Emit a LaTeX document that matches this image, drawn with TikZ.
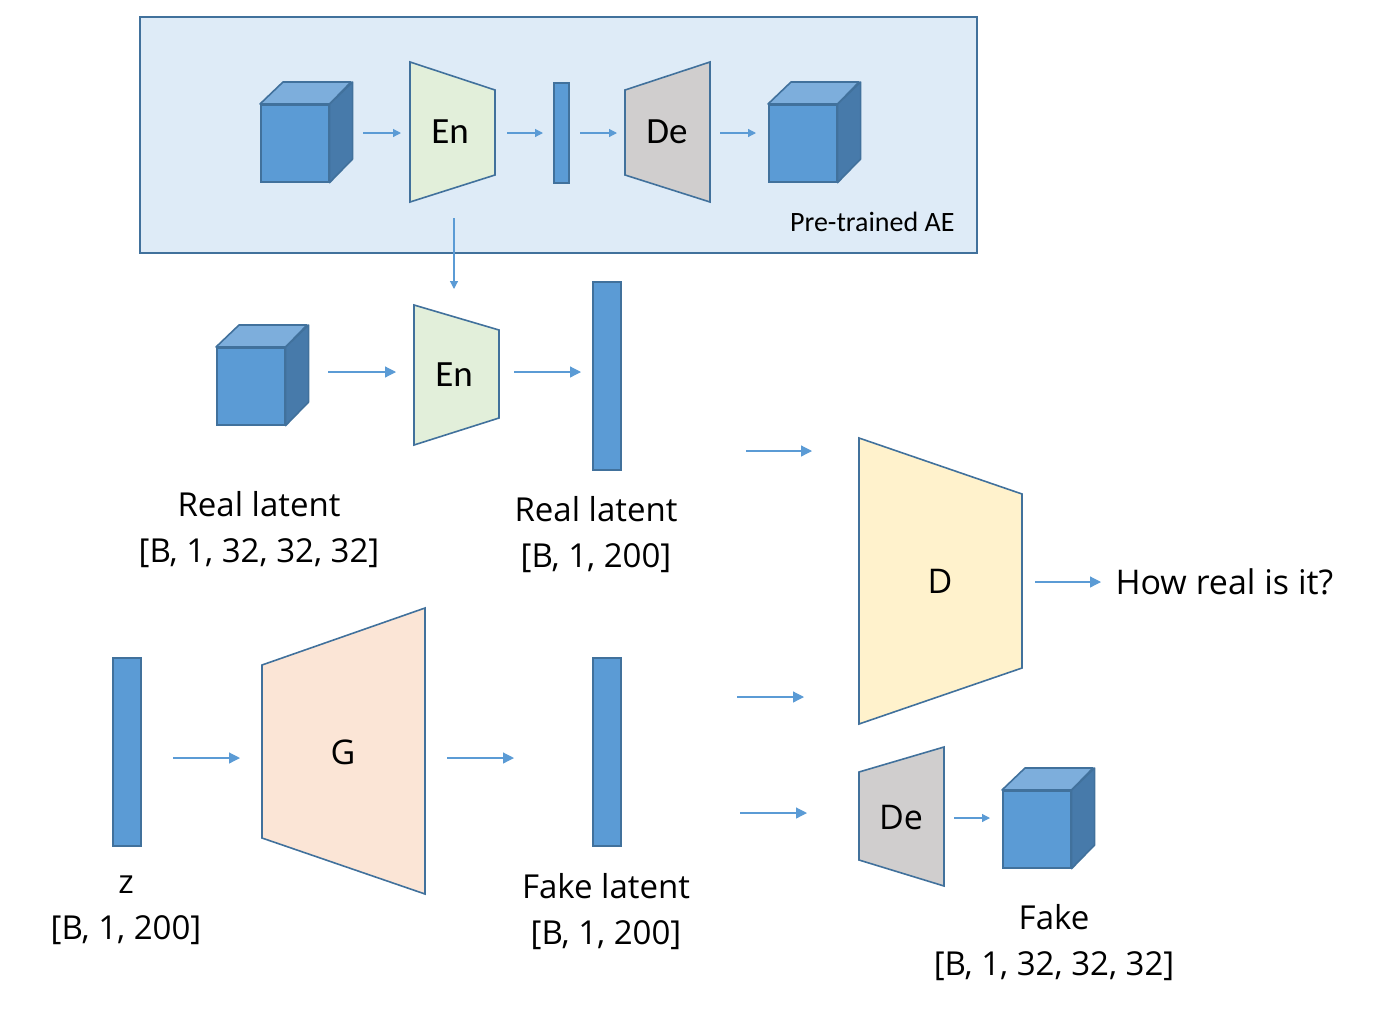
\documentclass[tikz,border=0pt]{standalone}
\usepackage{fontspec}
\setmainfont{Open Sans}
\newfontfamily\calfont{Carlito}
\usetikzlibrary{arrows.meta,positioning}
\definecolor{aeblue}{HTML}{DEEBF7}
\definecolor{edge}{HTML}{41719C}
\definecolor{face}{HTML}{5B9BD5}
\definecolor{facetop}{HTML}{7DAEDC}
\definecolor{faceside}{HTML}{477AAA}
\definecolor{arrblue}{HTML}{5B9BD5}
\definecolor{enfill}{HTML}{E2EFDA}
\definecolor{defill}{HTML}{D0CECE}
\definecolor{dfill}{HTML}{FFF2CC}
\definecolor{gfill}{HTML}{FBE5D6}
\tikzstyle{aebox}=[draw=edge,fill=aeblue,line width=1.6pt]
\tikzstyle{cubefront}=[rectangle,draw=edge,fill=face,line width=1.6pt,minimum width=68pt,minimum height=77pt,inner sep=0pt]
\tikzstyle{cubetop}=[draw=edge,fill=facetop,line width=1.6pt,line join=round]
\tikzstyle{cubeside}=[draw=edge,fill=faceside,line width=1.6pt,line join=round]
\tikzstyle{bar}=[rectangle,draw=edge,fill=face,line width=1.6pt,inner sep=0pt]
\tikzstyle{net}=[draw=edge,line width=1.6pt]
\tikzstyle{arr}=[-{Triangle[length=11pt,width=11pt]},draw=arrblue,line width=1.2pt]
\tikzstyle{sarr}=[-{Triangle[length=8pt,width=8pt]},draw=arrblue,line width=1.2pt]
\tikzstyle{lbl}=[align=center,font=\fontsize{33}{46}\selectfont]
\tikzstyle{big}=[font=\fontsize{34}{40}\selectfont]
\tikzstyle{aetext}=[font=\calfont\fontsize{37}{40}\selectfont]
\newcommand{\blockcube}[3]{%
  \node[cubefront,anchor=north west] (#1) at (#2,#3) {};
  \filldraw[cubetop] (#1.north west) -- ++(23,-22) -- ++(68,0) -- (#1.north east) -- cycle;
  \filldraw[cubeside] (#1.north east) -- ++(23,-22) -- ++(0,77) -- (#1.south east) -- cycle;}

\begin{document}
\begin{tikzpicture}[x=1pt,y=-1pt]
\useasboundingbox (0,0) rectangle (1381,1023);
% pre-trained autoencoder
\filldraw[aebox] (140,17) rectangle (977,253);
\blockcube{inA}{260}{104}
\filldraw[net,fill=enfill] (410,62) -- (495,90) -- (495,175) -- (410,202) -- cycle;
\node[aetext] (enA) at (450,132) {En};
\node[bar,anchor=north west,minimum width=15pt,minimum height=100pt] (zA) at (553,82) {};
\filldraw[net,fill=defill] (625,90) -- (710,62) -- (710,202) -- (625,175) -- cycle;
\node[aetext] (deA) at (667,132) {De};
\blockcube{outA}{768}{104}
\node[font=\calfont\fontsize{28}{30}\selectfont,anchor=east] (ae) at (958,222) {Pre-trained AE};
\coordinate (a1) at (363,133); \coordinate (b1) at (401,133);
\coordinate (a2) at (507,133); \coordinate (b2) at (543,133);
\coordinate (a3) at (580,133); \coordinate (b3) at (617,133);
\coordinate (a4) at (720,133); \coordinate (b4) at (756,133);
\draw[sarr] (a1) -- (b1);
\draw[sarr] (a2) -- (b2);
\draw[sarr] (a3) -- (b3);
\draw[sarr] (a4) -- (b4);
\coordinate (a5) at (454,218); \coordinate (b5) at (454,289);
\draw[sarr] (a5) -- (b5);

% real branch
\blockcube{real}{216}{347}
\filldraw[net,fill=enfill] (414,305) -- (499,330) -- (499,418) -- (414,445) -- cycle;
\node[aetext] (enB) at (454,375) {En};
\node[bar,anchor=north west,minimum width=28pt,minimum height=188pt] (zreal) at (592,281) {};
\node[lbl] (rl1) at (259,530) {Real latent\\{}[B, 1, 32, 32, 32]};
\node[lbl] (rl2) at (596,535) {Real latent\\{}[B, 1, 200]};
\coordinate (a6) at (328,372); \coordinate (b6) at (396,372);
\coordinate (a7) at (514,372); \coordinate (b7) at (581,372);
\draw[arr] (a6) -- (b6);
\draw[arr] (a7) -- (b7);

% discriminator
\filldraw[net,fill=dfill] (859,438) -- (1022,494) -- (1022,668) -- (859,724) -- cycle;
\node[big] (disc) at (940,581) {D};
\node[big,anchor=west] (out) at (1112,582) {How real is it?};
\coordinate (a8) at (746,451); \coordinate (b8) at (812,451);
\coordinate (a9) at (1035,582); \coordinate (b9) at (1101,582);
\coordinate (a10) at (737,697); \coordinate (b10) at (804,697);
\draw[arr] (a8) -- (b8);
\draw[arr] (a9) -- (b9);
\draw[arr] (a10) -- (b10);

% generator branch
\node[bar,anchor=north west,minimum width=28pt,minimum height=188pt] (z) at (112,657) {};
\node[lbl] (zl) at (126,910) {z\\{}[B, 1, 200]};
\filldraw[net,fill=gfill] (262,665) -- (425,608) -- (425,894) -- (262,838) -- cycle;
\node[big] (gen) at (343,752) {G};
\node[bar,anchor=north west,minimum width=28pt,minimum height=188pt] (zfake) at (592,657) {};
\node[lbl] (fl) at (606,912) {Fake latent\\{}[B, 1, 200]};
\filldraw[net,fill=defill] (859,772) -- (944,747) -- (944,886) -- (859,860) -- cycle;
\node[big] (deB) at (901,818) {De};
\blockcube{fake}{1002}{790}
\node[lbl] (fk) at (1054,943) {Fake\\{}[B, 1, 32, 32, 32]};
\coordinate (a11) at (173,758); \coordinate (b11) at (240,758);
\coordinate (a12) at (447,758); \coordinate (b12) at (514,758);
\coordinate (a13) at (740,813); \coordinate (b13) at (807,813);
\coordinate (a14) at (954,818); \coordinate (b14) at (990,818);
\draw[arr] (a11) -- (b11);
\draw[arr] (a12) -- (b12);
\draw[arr] (a13) -- (b13);
\draw[sarr] (a14) -- (b14);
\end{tikzpicture}
\end{document}
